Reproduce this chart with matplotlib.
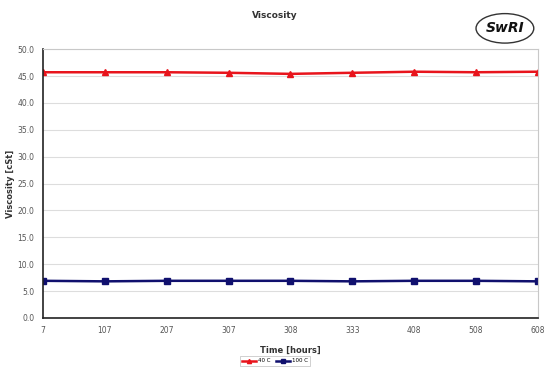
import matplotlib
matplotlib.use('Agg')
import matplotlib.pyplot as plt
from matplotlib.patches import Ellipse
import numpy as np

time_labels = ['7', '107', '207', '307', '308', '333', '408', '508', '608']
visc_40c = [45.7, 45.7, 45.7, 45.6, 45.4, 45.6, 45.8, 45.7, 45.8]
visc_100c = [6.9, 6.8, 6.9, 6.9, 6.9, 6.8, 6.9, 6.9, 6.8]

fig = plt.figure(figsize=(5.5, 3.78), dpi=100)
ax = fig.add_axes([0.078, 0.159, 0.900, 0.711])

x = np.arange(len(time_labels))
ax.plot(x, visc_40c, color='#e8141c', marker='^', markersize=5, linewidth=1.8, label='40 C')
ax.plot(x, visc_100c, color='#10106e', marker='s', markersize=5, linewidth=1.8, label='100 C')

ax.set_xlim(0, len(time_labels) - 1)
ax.set_ylim(0, 50)
ax.set_xticks(x)
ax.set_xticklabels(time_labels)
ax.set_yticks(np.arange(0, 50.1, 5))
ax.set_yticklabels(['%.1f' % v for v in np.arange(0, 50.1, 5)])
ax.tick_params(labelsize=5.5, colors='#555555', length=0, pad=6)
ax.grid(axis='y', color='#dddddd', linewidth=0.8)
ax.set_axisbelow(True)

for side in ['top', 'right']:
    ax.spines[side].set_color('#c8c8c8')
    ax.spines[side].set_linewidth(0.8)
for side in ['left', 'bottom']:
    ax.spines[side].set_color('#222222')
    ax.spines[side].set_linewidth(1.2)

ax.set_xlabel('Time [hours]', fontsize=6, fontweight='bold', color='#333333', labelpad=8)
ax.set_ylabel('Viscosity [cSt]', fontsize=6, fontweight='bold', color='#333333', labelpad=2)

fig.text(0.5, 0.96, 'Viscosity', ha='center', va='center', fontsize=6.5, fontweight='bold', color='#333333')

# logo
fig.text(0.918, 0.925, 'SwRI', ha='center', va='center', fontsize=10, fontweight='bold',
         fontstyle='italic', color='#111111')
fig.patches.append(Ellipse((0.918, 0.925), 0.105, 0.078, transform=fig.transFigure,
                           fill=False, edgecolor='#333333', linewidth=1.0))

leg = fig.legend(loc='center', bbox_to_anchor=(0.5, 0.045), ncol=2, fontsize=4,
                 frameon=True, fancybox=False, edgecolor='#bbbbbb', handlelength=2.5,
                 markerscale=0.6, columnspacing=1.0, handletextpad=0.3)
leg.get_frame().set_linewidth(0.6)

fig.savefig('out.png', dpi=100)
